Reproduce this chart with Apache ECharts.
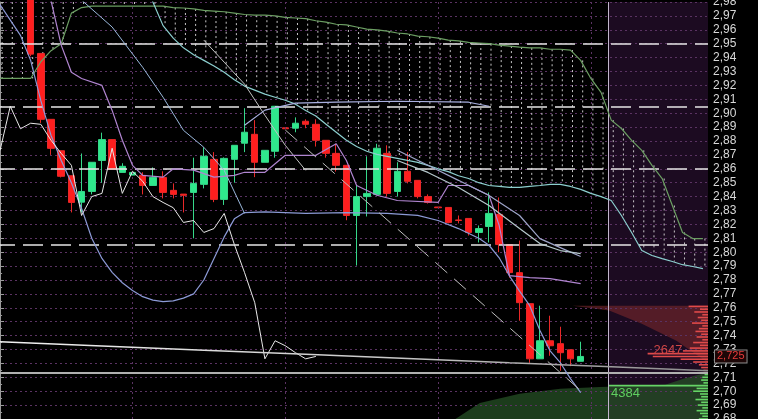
<!DOCTYPE html>
<html>
<head>
<meta charset="utf-8">
<script src="https://cdn.jsdelivr.net/npm/echarts/dist/echarts.min.js"></script>
<style>
  html, body { margin: 0; padding: 0; background: #000; }
  #c { width: 758px; height: 419px; }
</style>
</head>
<body>
<div id="c"></div>
<script>
// ---- candles (one per slot, starting at firstSlot) ----
const firstSlot = 3;
const opens  = [3.000, 2.943, 2.8956, 2.873, 2.855, 2.836, 2.8437, 2.866, 2.881, 2.8574, 2.8555, 2.8553, 2.848, 2.8538, 2.8445, 2.8418, 2.843, 2.8488, 2.8668, 2.838, 2.8668, 2.8784, 2.8848, 2.8647, 2.8726, 2.8895, 2.8892, 2.8942, 2.892, 2.8805, 2.8711, 2.8625, 2.8264, 2.840, 2.8416, 2.8711, 2.8437, 2.8582, 2.8517, 2.840, 2.8325, 2.8322, 2.8232, 2.8243, 2.8142, 2.8185, 2.8272, 2.8055, 2.7853, 2.763, 2.7233, 2.7363, 2.7342, 2.7298, 2.7215];
const closes = [2.9425, 2.8956, 2.8747, 2.8546, 2.8358, 2.8437, 2.8647, 2.881, 2.8596, 2.8618, 2.8574, 2.848, 2.8538, 2.843, 2.8416, 2.8409, 2.8495, 2.869, 2.838, 2.8675, 2.8769, 2.8863, 2.8647, 2.8733, 2.905, 2.8888, 2.8928, 2.892, 2.8805, 2.8711, 2.8625, 2.8264, 2.840, 2.8423, 2.8748, 2.8423, 2.8582, 2.851, 2.840, 2.8358, 2.832, 2.8214, 2.8228, 2.8142, 2.817, 2.8279, 2.8055, 2.7853, 2.7637, 2.7233, 2.7363, 2.7327, 2.7277, 2.7233, 2.725];
const lows   = [2.941, 2.893, 2.870, 2.8538, 2.8286, 2.8286, 2.8416, 2.850, 2.8596, 2.8574, 2.8555, 2.8416, 2.848, 2.8387, 2.8387, 2.8286, 2.810, 2.8459, 2.836, 2.834, 2.850, 2.872, 2.854, 2.8647, 2.868, 2.8888, 2.8863, 2.8892, 2.876, 2.868, 2.858, 2.823, 2.7904, 2.8257, 2.8409, 2.8401, 2.840, 2.8495, 2.8387, 2.835, 2.832, 2.8207, 2.8207, 2.812, 2.807, 2.807, 2.800, 2.7817, 2.7507, 2.7204, 2.7233, 2.7255, 2.7147, 2.718, 2.7215];
const highs  = [3.005, 2.943, 2.8956, 2.873, 2.855, 2.871, 2.8647, 2.886, 2.8812, 2.864, 2.8574, 2.8575, 2.861, 2.8582, 2.8495, 2.8418, 2.868, 2.8755, 2.872, 2.8682, 2.8769, 2.9036, 2.895, 2.8733, 2.905, 2.8895, 2.897, 2.8956, 2.8956, 2.8805, 2.878, 2.8625, 2.848, 2.869, 2.878, 2.8769, 2.8647, 2.872, 2.8517, 2.8416, 2.8325, 2.8322, 2.8264, 2.8243, 2.8192, 2.843, 2.8394, 2.8055, 2.8084, 2.763, 2.7615, 2.7543, 2.7464, 2.7298, 2.7356];

// ---- cloud spans, one value per slot (0..69) ----
const senkouA = [3.0, 3.0, 3.0, 3.0, 3.0, 3.0, 3.0, 3.0, 3.0, 3.0, 3.0, 3.0, 3.0, 3.0, 3.0, 2.980, 2.963, 2.954, 2.947, 2.942, 2.938, 2.934, 2.9295, 2.924, 2.9195, 2.9166, 2.9137, 2.9115, 2.9093, 2.9065, 2.902, 2.898, 2.892, 2.8863, 2.8805, 2.876, 2.8726, 2.8704, 2.869, 2.8675, 2.866, 2.8646, 2.8625, 2.860, 2.858, 2.855, 2.853, 2.850, 2.848, 2.8473, 2.8466, 2.8466, 2.8473, 2.848, 2.8488, 2.8488, 2.8473, 2.8452, 2.8423, 2.840, 2.8372, 2.8264, 2.8142, 2.8012, 2.7976, 2.7954, 2.7933, 2.791, 2.7897, 2.7882];
const senkouB = [2.925, 2.925, 2.925, 2.925, 2.937, 2.945, 2.950, 2.972, 2.976, 2.977, 2.977, 2.977, 2.977, 2.977, 2.977, 2.977, 2.977, 2.976, 2.9757, 2.975, 2.974, 2.9735, 2.973, 2.972, 2.971, 2.9705, 2.9705, 2.970, 2.969, 2.9685, 2.968, 2.9665, 2.9655, 2.964, 2.9635, 2.962, 2.9605, 2.960, 2.959, 2.9577, 2.957, 2.9555, 2.955, 2.954, 2.9526, 2.952, 2.951, 2.9505, 2.950, 2.949, 2.9483, 2.9476, 2.947, 2.947, 2.946, 2.946, 2.9454, 2.938, 2.925, 2.915, 2.895, 2.889, 2.8805, 2.8733, 2.8625, 2.853, 2.8336, 2.8142, 2.8098, 2.8098];

// ---- indicator lines as [slot, price] knots ----
const lowerBand = [[0,2.978],[2,2.956],[3,2.938],[4,2.909],[5,2.884],[6,2.866],[7,2.850],[8,2.8315],[9,2.810],[10,2.7955],[11,2.7855],[12,2.778],[13,2.7724],[14,2.768],[15,2.7655],[16,2.7645],[17,2.765],[18,2.767],[19,2.770],[20,2.780],[21,2.7955],[22,2.811],[23,2.824],[24,2.8285],[26,2.829],[30,2.828],[34,2.8285],[38,2.828],[41,2.8265],[43,2.8228],[45,2.817],[47,2.810],[48,2.805],[49,2.796],[50,2.783],[51,2.772],[52,2.7615],[53,2.7437],[54,2.729],[55,2.7205],[56,2.709],[57,2.699]];
const upperPath = [[8,2.9814],[11,2.962],[14,2.933],[16,2.9115],[18,2.8877],[20,2.8755],[22,2.8589],[24,2.8279]];
const greyPath = [[20,2.9526],[22,2.9367],[24,2.9209],[26,2.8985],[28,2.8769],[30,2.8589]];
const midBand = [[24,2.8913],[26,2.9022],[29,2.9072],[33,2.9079],[39,2.9086],[46,2.9079],[48,2.905]];
const kijun = [[5,2.981],[6,2.949],[7,2.9295],[8,2.925],[10,2.920],[11,2.902],[12,2.8805],[13,2.8625],[14,2.8553],[16,2.854],[17,2.860],[19,2.859],[21,2.854],[23,2.8553],[24,2.8575],[26,2.8575],[28,2.8697],[31,2.8697],[33,2.878],[34,2.866],[35,2.848],[37,2.841],[39,2.8372],[43,2.8358],[44,2.848],[46,2.848],[48,2.841],[49,2.8192],[50,2.7832],[52,2.7817],[54,2.781],[57,2.7774]];
const fallA = [[39,2.8733],[42,2.8625],[45,2.8517],[48,2.8408],[51,2.8264],[53,2.8098],[55,2.8033],[57,2.7969]];
const fallB = [[39,2.866],[42,2.8574],[45,2.8466],[48,2.8336],[51,2.817],[53,2.8062],[55,2.8012],[57,2.799]];
const slowAvg = [[0,2.7356],[10,2.7326],[20,2.7295],[30,2.7266],[40,2.7236],[50,2.7205],[60,2.7176],[69.5,2.7147]];
const trendLine = [[28,2.8879],[57,2.7005]];
const laggingShift = 26;

// ---- horizontal levels ----
const levelLines = [2.95, 2.905, 2.86, 2.805];
const supportLine = 2.7135;
const gridSlots = [13, 28, 43, 58];
const nowSlot = 59.68;
const lastSlot = 69.5;

// ---- volume profile ----
const redPrices = [2.761, 2.759, 2.757, 2.755, 2.753, 2.751, 2.749, 2.747, 2.745, 2.743, 2.741, 2.739, 2.737, 2.735, 2.733, 2.731, 2.729, 2.727, 2.725, 2.723, 2.721, 2.719, 2.717, 2.715];
const redVolumes = [850, 350, 600, 250, 450, 300, 700, 250, 400, 550, 300, 500, 250, 650, 350, 800, 1100, 2647, 2420, 1200, 650, 400, 300, 200];
const greenPrices = [2.712, 2.710, 2.708, 2.706, 2.704, 2.702, 2.700, 2.698, 2.696, 2.694, 2.692, 2.690, 2.688, 2.686, 2.684, 2.682, 2.680];
const greenVolumes = [150, 250, 300, 200, 4384, 500, 650, 350, 300, 550, 300, 450, 250, 500, 350, 250, 400];
const redZone = [[56.2,2.7615],[69.5,2.7615],[69.5,2.7204],[66.4,2.7363],[63.0,2.7485],[59.8,2.758]];
const greenZone = [[44.7,2.68],[47.1,2.6916],[51.0,2.6981],[55.0,2.7017],[58.9,2.7031],[62.8,2.7039],[65.3,2.7046],[67.4,2.7096],[69.0,2.7125],[69.5,2.7125],[69.5,2.68]];

const lastPrice = closes[closes.length - 1];

const candleData = opens.map((o, i) => [firstSlot + i, o, closes[i], lows[i], highs[i]]);
const laggingData = [];
closes.forEach((c, i) => {
  const s = firstSlot + i - laggingShift;
  if (s >= 0) laggingData.push([s, c]);
});
const cloudData = senkouA.map((a, i) => [i, a, senkouB[i]]);

function lineSeries(name, data, color, width, z, extra) {
  return Object.assign({
    name, type: 'line', data, xAxisIndex: 0, yAxisIndex: 0,
    showSymbol: false, symbol: 'none', silent: true, z,
    lineStyle: { color, width: width, type: 'solid' }
  }, extra || {});
}

function polygonSeries(points, fill, z) {
  return {
    type: 'custom', xAxisIndex: 0, yAxisIndex: 0, silent: true, z,
    data: [[points[0][0], points[0][1]]],
    encode: { x: 0, y: 1 },
    renderItem: (params, api) => ({
      type: 'polygon',
      shape: { points: points.map(p => api.coord(p)) },
      style: { fill }
    })
  };
}

function profileSeries(prices, volumes, color, labelColor, labelBelow) {
  const maxV = Math.max.apply(null, volumes);
  return {
    type: 'custom', xAxisIndex: 1, yAxisIndex: 1, silent: true, z: 4,
    data: prices.map((p, i) => [volumes[i], p]),
    encode: { x: 0, y: 1 },
    renderItem: (params, api) => {
      const v = api.value(0), p = api.value(1);
      const a = api.coord([0, p]), b = api.coord([v, p]);
      const children = [{
        type: 'rect',
        shape: { x: b[0], y: a[1] - 0.8, width: a[0] - b[0], height: 1.6 },
        style: { fill: color }
      }];
      if (v === maxV) {
        children.push({
          type: 'text',
          style: {
            text: String(v), x: b[0] + (labelBelow ? 3 : 6), y: a[1] + (labelBelow ? 8 : -3),
            fill: labelColor, font: '13px "Liberation Sans", Arial, sans-serif',
            align: 'left', verticalAlign: 'middle'
          }
        });
      }
      return { type: 'group', children };
    }
  };
}

const chart = echarts.init(document.getElementById('c'));
chart.setOption({
  animation: false,
  backgroundColor: '#000',
  grid: [
    { left: -5, right: 50, top: 2, bottom: 0, containLabel: false, outerBoundsMode: 'none' },
    { left: 508, right: 50, top: 2, bottom: 0, containLabel: false, outerBoundsMode: 'none' }
  ],
  xAxis: [
    { type: 'value', gridIndex: 0, min: -0.5, max: lastSlot, show: false },
    { type: 'value', gridIndex: 1, min: 0, max: 8768, inverse: true, show: false }
  ],
  yAxis: [
    {
      type: 'value', gridIndex: 0, position: 'right', min: 2.68, max: 2.98, interval: 0.01, z: 2,
      axisLine: { show: true, lineStyle: { color: '#9a9a9a', width: 1 } },
      axisTick: { show: true, length: 4, lineStyle: { color: '#9a9a9a' } },
      minorTick: { show: true, splitNumber: 2, length: 2, lineStyle: { color: '#9a9a9a' } },
      minorSplitLine: { show: false },
      axisLabel: {
        color: '#d8d8d8', fontSize: 12, fontFamily: '"Liberation Sans", Arial, sans-serif', margin: 5,
        showMinLabel: true, showMaxLabel: true,
        formatter: v => v.toFixed(2).replace('.', ',')
      },
      splitLine: { show: true, lineStyle: { color: '#5a3262', type: [2, 3], width: 1 } }
    },
    { type: 'value', gridIndex: 1, min: 2.68, max: 2.98, show: false }
  ],
  series: [
    // future region and vertical grid
    {
      type: 'line', data: [], xAxisIndex: 0, yAxisIndex: 0, z: 0, silent: true,
      markArea: {
        silent: true,
        itemStyle: { color: '#1c0b21', opacity: 1 },
        data: [[{ xAxis: nowSlot, yAxis: 2.98 }, { xAxis: lastSlot, yAxis: 2.68 }]]
      },
      markLine: {
        silent: true, symbol: 'none', label: { show: false },
        lineStyle: { color: '#5a3262', type: [2, 3], width: 1 },
        data: gridSlots.map(s => ({ xAxis: s })).concat([
          { xAxis: nowSlot, lineStyle: { color: '#c2b6cc', type: 'solid', width: 1 } }
        ])
      }
    },
    polygonSeries(redZone, 'rgba(120,38,44,0.62)', 1),
    polygonSeries(greenZone, 'rgba(38,80,38,0.75)', 1),
    // cloud hatching between the two spans
    {
      type: 'custom', xAxisIndex: 0, yAxisIndex: 0, silent: true, z: 3,
      data: cloudData, encode: { x: 0, y: [1, 2] },
      renderItem: (params, api) => {
        const s = api.value(0);
        const p1 = api.coord([s, api.value(1)]);
        const p2 = api.coord([s, api.value(2)]);
        const cs = params.coordSys;
        const y1 = Math.max(cs.y, Math.min(p1[1], p2[1]));
        const y2 = Math.min(cs.y + cs.height, Math.max(p1[1], p2[1]));
        if (y2 <= y1) return null;
        return {
          type: 'line',
          shape: { x1: p1[0] + 2, y1, x2: p1[0] + 2, y2 },
          style: { stroke: '#dcdcdc', lineWidth: 1, lineDash: [2, 3], opacity: 0.9 }
        };
      }
    },
    profileSeries(redPrices, redVolumes, '#e04a4a', '#cf4646', false),
    profileSeries(greenPrices, greenVolumes, '#66d466', '#5fcf5f', true),
    {
      type: 'candlestick', name: 'price', xAxisIndex: 0, yAxisIndex: 0, z: 4, clip: true, silent: true,
      data: candleData, encode: { x: 0, y: [1, 2, 3, 4] },
      barWidth: 7,
      itemStyle: {
        color: '#2fe88c', color0: '#ff1e1e',
        borderColor: '#36d88a', borderColor0: '#e82828', borderWidth: 1
      }
    },
    lineSeries('spanB', senkouB.map((v, i) => [i, v]), '#6b9e62', 1.2, 5),
    lineSeries('spanA', senkouA.map((v, i) => [i, v]), '#8ccfcf', 1.2, 5),
    lineSeries('lowerBand', lowerBand, '#8c9ad6', 1.2, 5),
    lineSeries('upperPath', upperPath, '#9ab8dc', 1, 5),
    lineSeries('greyPath', greyPath, '#c4c4c4', 1, 5),
    lineSeries('midBand', midBand, '#a9b0e0', 1.2, 5),
    lineSeries('kijun', kijun, '#b085d0', 1.2, 5),
    lineSeries('fallA', fallA, '#9da4c8', 1.2, 5),
    lineSeries('fallB', fallB, '#b5c8cc', 1.2, 5),
    lineSeries('lagging', laggingData, '#e8e8e8', 1, 5),
    lineSeries('slowAvg', slowAvg, {
      type: 'linear', x: 0, y: 0, x2: 1, y2: 0,
      colorStops: [{ offset: 0, color: '#f2f2f2' }, { offset: 0.55, color: '#c8c8c8' }, { offset: 1, color: '#8c8c8c' }]
    }, 1.5, 5),
    lineSeries('trend', trendLine, '#bdbdbd', 1, 5, { lineStyle: { color: '#bdbdbd', width: 1, type: [16, 9] } }),
    // horizontal levels
    {
      type: 'line', data: [], xAxisIndex: 0, yAxisIndex: 0, z: 6, silent: true,
      markLine: {
        silent: true, symbol: 'none', label: { show: false }, precision: 4,
        lineStyle: { color: '#e6e6e6', width: 1.5, type: [20, 8] },
        data: levelLines.map(v => ({ yAxis: v })).concat([
          { yAxis: supportLine, lineStyle: { color: '#b0b0b0', type: 'solid', width: 2 } }
        ])
      }
    },
    // last price tag on the axis
    {
      type: 'line', data: [], xAxisIndex: 0, yAxisIndex: 0, z: 8, silent: true,
      markLine: {
        silent: true, symbol: 'none', precision: 3,
        lineStyle: { color: 'rgba(0,0,0,0)', width: 1, type: 'solid' },
        label: {
          show: true, position: 'end', distance: 7,
          formatter: p => Number(p.value).toFixed(3).replace('.', ','),
          color: '#e83c3c', fontSize: 11, fontFamily: '"Liberation Sans", Arial, sans-serif',
          backgroundColor: '#1c0606', borderColor: '#8a8a8a', borderWidth: 1, padding: [1, 2, 0, 2]
        },
        data: [{ yAxis: lastPrice }]
      }
    }
  ]
});
</script>
</body>
</html>
